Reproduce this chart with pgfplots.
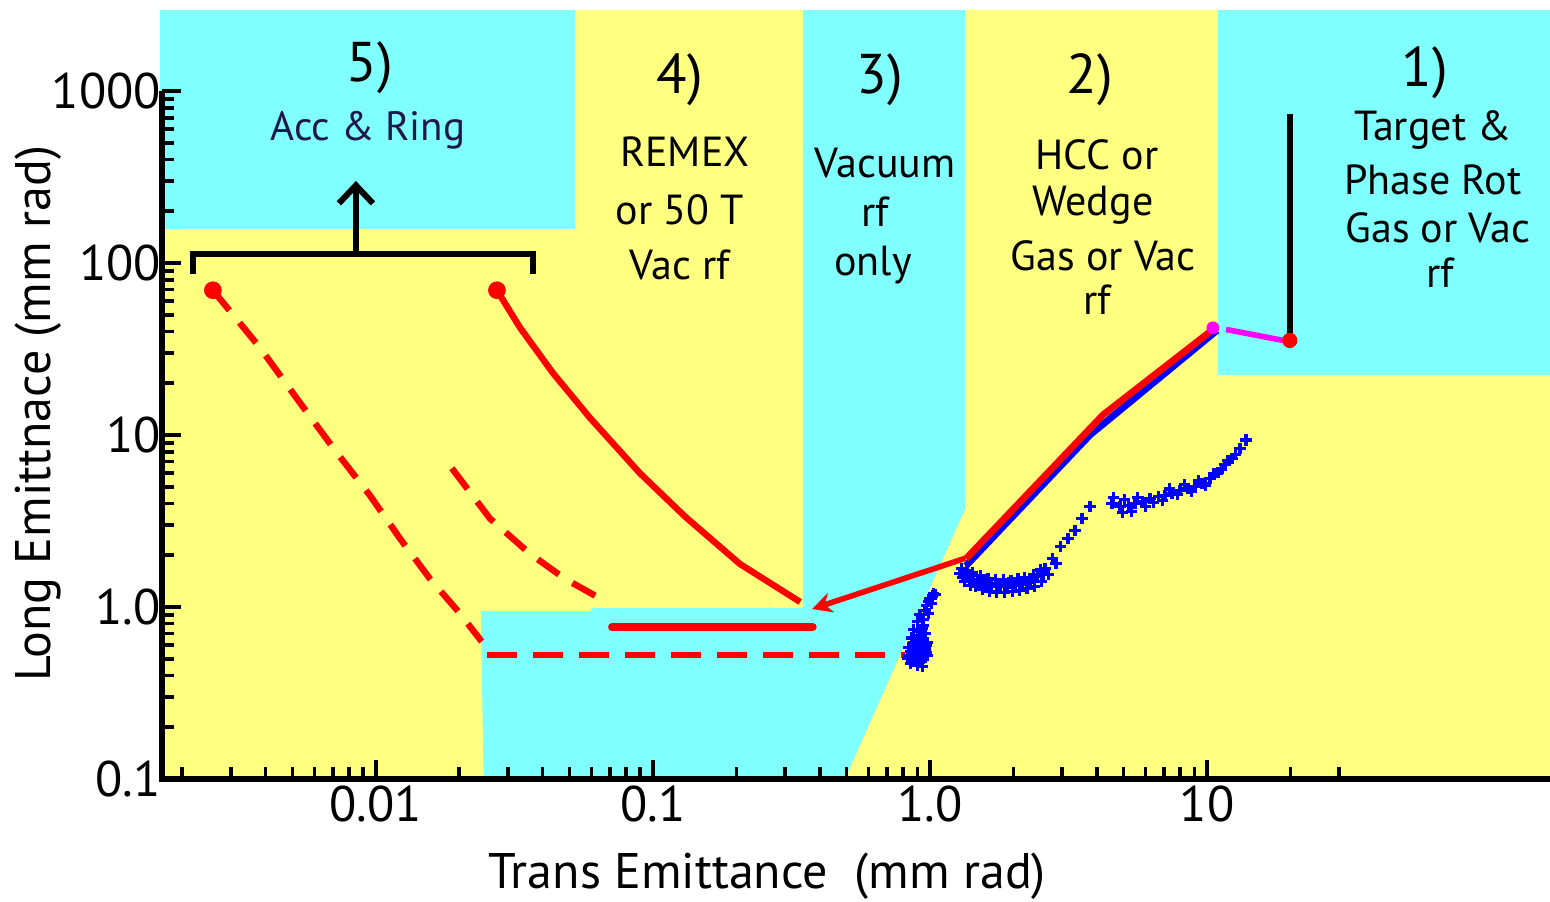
\documentclass[border=0pt]{standalone}
\usepackage{pgfplots}
\pgfplotsset{compat=1.18}
\usepackage{fontspec}
\setmainfont{PT Sans}
\usetikzlibrary{arrows.meta}
\definecolor{cbg}{HTML}{80FFFF}
\definecolor{ybg}{HTML}{FFFF80}
\definecolor{navy}{HTML}{201848}
\definecolor{mag}{HTML}{FF00FF}
\begin{document}
\begin{tikzpicture}
\path[use as bounding box] (-81pt,-61pt) rectangle (694pt,389.5pt);
\begin{axis}[
  xmode=log, ymode=log,
  xmin=0.00169, xmax=173, ymin=0.1, ymax=2960,
  width=694pt, height=384.5pt, scale only axis,
  clip=false,
  axis on top,
  axis background/.style={fill=ybg},
  axis x line*=bottom, axis y line*=left,
  axis line style={draw=none},
  tick align=inside,
  xtick={0.01,0.1,1,10},
  xticklabels={\mbox{0.01},\mbox{0.1},\mbox{1.0},\mbox{10}},
  minor xtick={0.002,0.003,0.004,0.005,0.006,0.007,0.008,0.009,
    0.02,0.03,0.04,0.05,0.06,0.07,0.08,0.09,
    0.2,0.3,0.4,0.5,0.6,0.7,0.8,0.9,
    2,3,4,5,6,7,8,9,20,30},
  ytick={0.1,1,10,100,1000},
  yticklabels={\mbox{0.1},\mbox{1.0},\mbox{10},\mbox{100},\mbox{1000}},
  minor ytick={0.2,0.3,0.4,0.5,0.6,0.7,0.8,0.9,
    2,3,4,5,6,7,8,9,20,30,40,50,60,70,80,90,
    200,300,400,500,600,700,800,900},
  major tick length=9.5pt, minor tick length=6pt,
  every tick/.style={black, line width=1.8pt},
  tick label style={font=\fontsize{25}{25}\selectfont},
  yticklabel style={xshift=3pt},
  xlabel={Trans Emittance\ \ (mm rad)},
  ylabel={Long Emittnace (mm rad)},
  label style={font=\fontsize{25}{25}\selectfont},
  xlabel style={at={(axis description cs:0.436,-0.127)}, anchor=center},
  ylabel style={at={(axis description cs:-0.0893,0.475)}, anchor=center},
]
% background regions
\addplot[fill=cbg, draw=none] coordinates {(0.00166,158) (0.0523,158) (0.0523,2960) (0.00166,2960)} -- cycle;
\addplot[fill=cbg, draw=none] coordinates {(0.348,2960) (1.34,2960) (1.34,3.74) (0.493,0.1) (0.0245,0.1) (0.0239,0.947) (0.06,0.947) (0.06,0.987) (0.348,0.987)} -- cycle;
\addplot[fill=cbg, draw=none] coordinates {(10.96,22.4) (173,22.4) (173,2960) (10.96,2960)} -- cycle;
% axis lines
\addplot[black, line width=2.6pt] coordinates {(0.00169,1000) (0.00169,0.1) (173,0.1)};
% bracket and arrow
\addplot[black, line width=3pt] coordinates {(0.00218,86.2) (0.00218,113) (0.0369,113) (0.0369,86.2)};
\addplot[black, line width=3pt, -{Straight Barb[length=9pt,width=17pt,line width=3pt]}] coordinates {(0.00847,113) (0.00847,300)};
% dashed line 1
\addplot[red, line width=3.2pt, dash pattern=on 13pt off 8pt] coordinates {
 (0.00258,69.5) (0.00381,32.3) (0.00532,15.4) (0.00711,8.17) (0.00951,4.46)
 (0.01222,2.50) (0.01567,1.46) (0.01977,0.947) (0.0241,0.63)};
\addplot[red, line width=3.2pt, dash pattern=on 15pt off 8pt] coordinates {(0.0252,0.524) (0.812,0.524)};
% dashed line 2
\addplot[red, line width=3.2pt, dash pattern=on 13pt off 8pt] coordinates {
 (0.0188,6.41) (0.0258,3.27) (0.0360,2.04) (0.0481,1.46) (0.0633,1.14)};
% solid curve
\addplot[red, line width=3.2pt] coordinates {
 (0.02735,69.5) (0.0331,42.2) (0.0435,23.0) (0.0592,12.6) (0.0898,5.99)
 (0.1305,3.36) (0.206,1.78) (0.340,1.07)};
\addplot[red, only marks, mark=*, mark size=4.2pt] coordinates {(0.00258,69.5) (0.02735,69.5)};
% solid horizontal
\addplot[red, line width=3.8pt, line cap=round] coordinates {(0.0711,0.764) (0.378,0.764)};
% arrow line
\addplot[red, line width=2.8pt, {Stealth[length=10pt,width=10pt]}-] coordinates {(0.375,0.973) (1.34,1.92)};
% thick red and blue
\addplot[blue, line width=3.4pt] coordinates {(1.349,1.737) (3.78,10.0) (10.87,40.6)};
\addplot[red, line width=3.4pt] coordinates {(1.349,1.909) (4.21,13.09) (10.51,41.1)};
% magenta
\addplot[mag, line width=2.8pt] coordinates {(11.71,41.1) (18.8,35.5)};
\addplot[mag, only marks, mark=*, mark size=3pt] coordinates {(10.5,42)};
% black vertical
\addplot[red, only marks, mark=*, mark size=3.6pt] coordinates {(19.9,35.5)};
\addplot[black, line width=3pt] coordinates {(19.9,35.5) (19.9,733)};
% blue scatter clusters
\addplot[blue, only marks, mark=+, mark size=2.8pt, line width=1.6pt] coordinates {
 (0.83,0.50) (0.84,0.58) (0.85,0.47) (0.86,0.66) (0.87,0.53) (0.87,0.74) (0.88,0.49) (0.88,0.60)
 (0.89,0.56) (0.90,0.82) (0.90,0.46) (0.91,0.68) (0.92,0.52) (0.92,0.62) (0.92,0.90) (0.93,0.48)
 (0.93,0.58) (0.94,0.75) (0.94,0.54) (0.95,0.64) (0.95,0.50) (0.96,0.57) (0.96,0.95) (0.97,1.02)
 (0.97,0.60) (0.98,0.52) (0.99,1.08) (1.00,1.12) (1.02,1.16) (1.03,1.20) (1.05,1.18) (0.86,0.52)
 (0.89,0.64) (0.91,0.55) (0.94,0.45) (0.90,0.72) (0.95,0.85) (0.85,0.55) (0.87,0.62) (0.92,0.57)
 (0.96,0.70) (0.98,0.62) (0.93,0.66) (0.89,0.51) (0.84,0.52) (0.97,0.54) (0.91,0.48) (0.95,0.78)
 (0.99,0.92) (1.01,1.05)};
\addplot[blue, only marks, mark=+, mark size=2.8pt, line width=1.6pt] coordinates {
 (1.28,1.56) (1.34,1.50) (1.39,1.46) (1.49,1.42) (1.58,1.36) (1.67,1.31) (1.79,1.33) (1.91,1.31)
 (2.03,1.33) (2.15,1.35) (2.30,1.40) (2.45,1.50) (2.60,1.67) (2.76,1.91) (2.95,2.24) (3.15,2.50)
 (3.34,2.78) (3.54,3.27) (3.78,3.85)
 (1.30,1.68) (1.36,1.62) (1.42,1.58) (1.52,1.52) (1.62,1.47) (1.72,1.44) (1.84,1.45) (1.96,1.43)
 (2.08,1.46) (2.20,1.49) (2.36,1.55) (2.50,1.64)
 (1.33,1.40) (1.40,1.34) (1.46,1.31) (1.55,1.27) (1.64,1.23) (1.74,1.22) (1.86,1.22) (1.98,1.23)
 (2.10,1.25) (2.24,1.28) (2.38,1.32) (2.52,1.40) (2.68,1.55) (2.85,1.80)
 (1.31,1.49) (1.44,1.44) (1.60,1.40) (1.76,1.37) (1.93,1.38) (2.12,1.40) (2.33,1.46) (2.56,1.55)};
\addplot[blue, only marks, mark=+, mark size=2.8pt, line width=1.6pt] coordinates {
 (4.54,4.00) (4.85,3.85) (5.19,3.90) (5.50,4.00) (5.83,4.11) (6.23,4.28) (6.66,4.40) (7.05,4.46)
 (7.47,4.58) (7.99,4.77) (8.54,4.90) (9.05,5.03) (9.59,5.24) (10.25,5.60) (10.96,6.07) (11.61,6.77)
 (12.31,7.34) (13.16,8.39) (13.83,9.35)
 (4.60,4.35) (4.95,3.55) (5.05,4.20) (5.35,3.60) (5.60,4.35) (6.00,3.85) (6.40,4.05) (6.90,4.15)
 (7.30,4.85) (7.80,4.50) (8.30,5.15) (8.80,4.70) (9.30,5.45) (9.90,5.10) (10.60,5.95) (11.30,6.30)
 (11.90,7.10) (12.70,7.70)};
% texts
\node[font=\fontsize{28}{28}\selectfont] at (rel axis cs:0.1499,0.9246) {5)};
\node[font=\fontsize{20.5}{20}\selectfont, text=navy] at (rel axis cs:0.1484,0.844) {Acc \& Ring};
\node[font=\fontsize{28}{28}\selectfont] at (rel axis cs:0.3732,0.909) {4)};
\node[font=\fontsize{21}{21}\selectfont] at (rel axis cs:0.3768,0.8153) {REMEX};
\node[font=\fontsize{21}{21}\selectfont] at (rel axis cs:0.3732,0.740) {or 50 T};
\node[font=\fontsize{21}{21}\selectfont] at (rel axis cs:0.3732,0.6684) {Vac rf};
\node[font=\fontsize{28}{28}\selectfont] at (rel axis cs:0.5173,0.909) {3)};
\node[font=\fontsize{21}{21}\selectfont] at (rel axis cs:0.5209,0.801) {Vacuum};
\node[font=\fontsize{21}{21}\selectfont] at (rel axis cs:0.5137,0.7373) {rf};
\node[font=\fontsize{21}{21}\selectfont] at (rel axis cs:0.5122,0.6684) {only};
\node[font=\fontsize{28}{28}\selectfont] at (rel axis cs:0.6686,0.909) {2)};
\node[font=\fontsize{21}{21}\selectfont] at (rel axis cs:0.6736,0.8114) {HCC or};
\node[font=\fontsize{21}{21}\selectfont] at (rel axis cs:0.6707,0.7464) {Wedge};
\node[font=\fontsize{21}{21}\selectfont] at (rel axis cs:0.678,0.6801) {Gas or Vac};
\node[font=\fontsize{21}{21}\selectfont] at (rel axis cs:0.6736,0.6229) {rf};
\node[font=\fontsize{28}{28}\selectfont] at (rel axis cs:0.91,0.918) {1)};
\node[font=\fontsize{21}{21}\selectfont] at (rel axis cs:0.9157,0.844) {Target \&};
\node[font=\fontsize{21}{21}\selectfont] at (rel axis cs:0.9157,0.779) {Phase Rot};
\node[font=\fontsize{21}{21}\selectfont] at (rel axis cs:0.9193,0.7165) {Gas or Vac};
\node[font=\fontsize{21}{21}\selectfont] at (rel axis cs:0.9207,0.658) {rf};
\end{axis}
\end{tikzpicture}
\end{document}
